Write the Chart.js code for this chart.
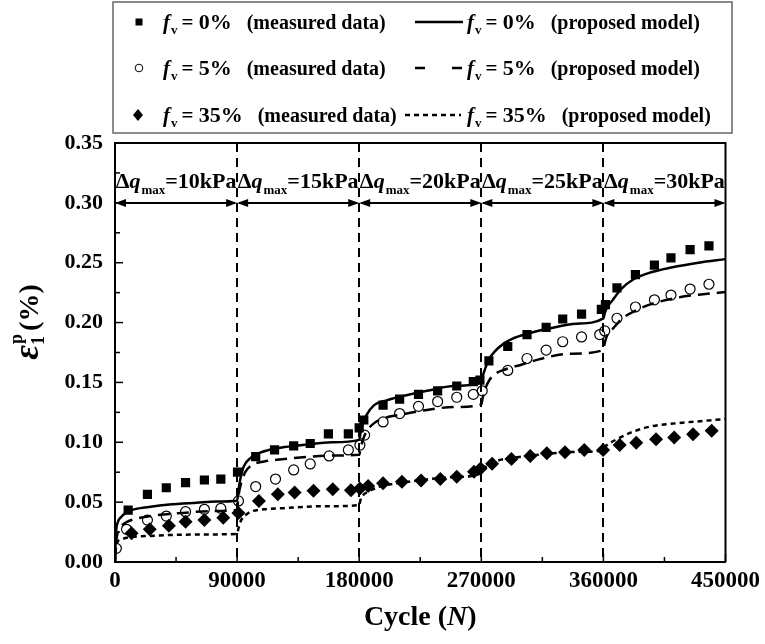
<!DOCTYPE html>
<html>
<head>
<meta charset="utf-8">
<script src="https://cdn.jsdelivr.net/npm/chart.js@4.4.1/dist/chart.umd.min.js"></script>
<style>
  html, body { margin: 0; padding: 0; background: #fff; }
</style>
</head>
<body>
<canvas id="strainChart" width="765" height="644"></canvas>
<script>
// loading stages (cycle boundaries) and their deviator stress amplitude
const stageBounds = [0, 90000, 180000, 270000, 360000, 450000];
const stageLoads = ['10kPa', '15kPa', '20kPa', '25kPa', '30kPa'];
const legendFractions = ['0%', '5%', '35%'];

// measured data, f_v = 0%
const cyclesM0 = [9700, 23900, 37800, 52000, 65900, 78000, 90300, 103700, 117600, 131700, 143900, 157300, 172000, 180000, 183400, 197600, 209800, 223700, 237800, 251900, 264100, 269000, 275600, 289500, 303700, 317800, 330000, 343900, 358500, 361500, 370000, 383600, 397600, 409800, 423900, 437800];
const strainM0 = [0.0434, 0.0565, 0.062, 0.0663, 0.0685, 0.0693, 0.075, 0.088, 0.0936, 0.097, 0.099, 0.107, 0.107, 0.112, 0.1186, 0.131, 0.136, 0.140, 0.143, 0.147, 0.1506, 0.152, 0.168, 0.180, 0.190, 0.196, 0.203, 0.207, 0.211, 0.215, 0.229, 0.240, 0.248, 0.254, 0.261, 0.264];

// measured data, f_v = 5%
const cyclesM5 = [1000, 8500, 23900, 37800, 52000, 65900, 78000, 91000, 103700, 118300, 131700, 143900, 157800, 172000, 180500, 184000, 197600, 209800, 223700, 237800, 251900, 264100, 270700, 289500, 303700, 317800, 330000, 343900, 357300, 361000, 370000, 383600, 397600, 409800, 423900, 437800];
const strainM5 = [0.0114, 0.0273, 0.035, 0.0384, 0.042, 0.044, 0.0448, 0.051, 0.063, 0.0693, 0.0769, 0.0819, 0.0886, 0.0936, 0.0977, 0.106, 0.117, 0.124, 0.130, 0.134, 0.1376, 0.140, 0.143, 0.160, 0.170, 0.177, 0.184, 0.188, 0.190, 0.193, 0.2036, 0.213, 0.219, 0.223, 0.228, 0.232];

// measured data, f_v = 35%
const cyclesM35 = [12200, 25600, 39700, 52000, 65900, 79800, 91000, 106100, 120000, 132400, 146300, 160500, 173900, 180500, 186600, 197600, 211500, 225600, 239800, 251900, 264600, 269500, 278000, 292200, 306100, 318300, 331700, 345900, 359800, 372000, 384200, 398800, 412200, 426100, 439800];
const strainM35 = [0.024, 0.0273, 0.0303, 0.0337, 0.035, 0.037, 0.041, 0.051, 0.0565, 0.058, 0.0596, 0.0607, 0.060, 0.0615, 0.0635, 0.0657, 0.067, 0.068, 0.0693, 0.0713, 0.0754, 0.078, 0.082, 0.086, 0.0886, 0.0908, 0.0916, 0.0936, 0.0936, 0.0977, 0.0997, 0.1025, 0.104, 0.1067, 0.1097];

// proposed model, f_v = 0%
const cyclesP0 = [0, 800, 2000, 4000, 8000, 14000, 25000, 40000, 60000, 75000, 90000, 91000, 92500, 95000, 100000, 106000, 115000, 125000, 140000, 160000, 180000, 181000, 182500, 185000, 191000, 200000, 210000, 230000, 250000, 270000, 271000, 273000, 276000, 280000, 286000, 292000, 305000, 320000, 340000, 360000, 361000, 363000, 367000, 373000, 382000, 395000, 410000, 430000, 450000];
const strainP0 = [0, 0.025, 0.033, 0.037, 0.041, 0.044, 0.046, 0.048, 0.0495, 0.0505, 0.0512, 0.060, 0.070, 0.080, 0.087, 0.091, 0.094, 0.096, 0.098, 0.100, 0.102, 0.108, 0.115, 0.122, 0.131, 0.135, 0.138, 0.143, 0.147, 0.150, 0.155, 0.162, 0.170, 0.176, 0.182, 0.186, 0.191, 0.195, 0.199, 0.2035, 0.208, 0.213, 0.219, 0.228, 0.236, 0.242, 0.246, 0.250, 0.253];

// proposed model, f_v = 5%
const cyclesP5 = [0, 500, 1500, 4000, 8000, 15000, 30000, 50000, 70000, 90000, 91000, 93000, 96000, 101000, 110000, 125000, 145000, 165000, 180000, 181000, 183000, 186000, 191000, 198000, 210000, 230000, 250000, 270000, 271000, 273000, 276000, 280000, 288000, 300000, 315000, 335000, 360000, 361000, 363000, 367000, 374000, 382000, 394000, 418000, 435000, 450000];
const strainP5 = [0, 0.012, 0.022, 0.029, 0.033, 0.036, 0.039, 0.041, 0.0425, 0.0435, 0.055, 0.066, 0.075, 0.081, 0.084, 0.086, 0.088, 0.089, 0.0895, 0.095, 0.103, 0.110, 0.116, 0.120, 0.123, 0.127, 0.1295, 0.1315, 0.137, 0.145, 0.152, 0.157, 0.161, 0.165, 0.170, 0.174, 0.177, 0.183, 0.190, 0.195, 0.2035, 0.209, 0.215, 0.2215, 0.2238, 0.2255];

// proposed model, f_v = 35%
const cyclesP35 = [0, 500, 1500, 5000, 12000, 20000, 40000, 65000, 90000, 91000, 93000, 96000, 100000, 110000, 125000, 150000, 180000, 181000, 183000, 187000, 195000, 210000, 230000, 250000, 270000, 271000, 274000, 278000, 287000, 300000, 320000, 340000, 360000, 361000, 363000, 369000, 380000, 394000, 415000, 435000, 450000];
const strainP35 = [0, 0.010, 0.016, 0.019, 0.021, 0.0215, 0.0225, 0.023, 0.0235, 0.028, 0.035, 0.039, 0.042, 0.044, 0.045, 0.0465, 0.0475, 0.052, 0.056, 0.059, 0.063, 0.066, 0.069, 0.071, 0.074, 0.077, 0.080, 0.083, 0.086, 0.088, 0.0905, 0.092, 0.0935, 0.096, 0.098, 0.102, 0.108, 0.113, 0.116, 0.118, 0.1195];

const FONT = '"Liberation Serif", "Times New Roman", serif';

function toPoints(xs, ys) {
  return xs.map((x, i) => ({ x: x, y: ys[i] }));
}

// draws a run of text pieces with different fonts / offsets, returns total width
function drawRich(ctx, parts, x, y, measureOnly) {
  let cx = x;
  parts.forEach(p => {
    ctx.font = p.font;
    if (!measureOnly) ctx.fillText(p.t, cx, y + (p.dy || 0));
    cx += ctx.measureText(p.t).width + (p.gap || 0);
  });
  return cx - x;
}

const overlayPlugin = {
  id: 'overlay',
  beforeDatasetsDraw(chart) {
    const ctx = chart.ctx;
    const xs = chart.scales.x, area = chart.chartArea;
    // stage boundaries
    ctx.save();
    ctx.strokeStyle = '#000';
    ctx.lineWidth = 2;
    ctx.setLineDash([9, 6]);
    stageBounds.slice(1, -1).forEach(b => {
      const px = Math.round(xs.getPixelForValue(b));
      ctx.beginPath();
      ctx.moveTo(px, area.top);
      ctx.lineTo(px, area.bottom);
      ctx.stroke();
    });
    ctx.restore();
  },
  afterDraw(chart) {
    const ctx = chart.ctx;
    const xs = chart.scales.x, ys = chart.scales.y, area = chart.chartArea;
    ctx.save();
    ctx.fillStyle = '#000';
    ctx.strokeStyle = '#000';

    // frame top / right
    ctx.lineWidth = 2;
    ctx.beginPath();
    ctx.moveTo(area.left, area.top);
    ctx.lineTo(area.right, area.top);
    ctx.lineTo(area.right, area.bottom);
    ctx.stroke();

    // inward ticks
    ctx.lineWidth = 1.5;
    const yt = ys.ticks.map(t => t.value);
    yt.forEach((v, i) => {
      const py = ys.getPixelForValue(v);
      ctx.beginPath(); ctx.moveTo(area.left, py); ctx.lineTo(area.left + 8, py); ctx.stroke();
      if (i < yt.length - 1) {
        const pm = ys.getPixelForValue((v + yt[i + 1]) / 2);
        ctx.beginPath(); ctx.moveTo(area.left, pm); ctx.lineTo(area.left + 5, pm); ctx.stroke();
      }
    });
    const xt = xs.ticks.map(t => t.value);
    xt.forEach((v, i) => {
      const px = xs.getPixelForValue(v);
      ctx.beginPath(); ctx.moveTo(px, area.bottom); ctx.lineTo(px, area.bottom - 8); ctx.stroke();
      if (i < xt.length - 1) {
        const pm = xs.getPixelForValue((v + xt[i + 1]) / 2);
        ctx.beginPath(); ctx.moveTo(pm, area.bottom); ctx.lineTo(pm, area.bottom - 5); ctx.stroke();
      }
    });

    // stage arrows and labels at 0.30
    const ay = Math.round(ys.getPixelForValue(0.30));
    ctx.lineWidth = 2;
    ctx.textBaseline = 'alphabetic';
    for (let i = 0; i < stageLoads.length; i++) {
      const xl = xs.getPixelForValue(stageBounds[i]);
      const xr = xs.getPixelForValue(stageBounds[i + 1]);
      ctx.beginPath(); ctx.moveTo(xl + 2, ay); ctx.lineTo(xr - 2, ay); ctx.stroke();
      ctx.beginPath(); ctx.moveTo(xl, ay); ctx.lineTo(xl + 11, ay - 4); ctx.lineTo(xl + 11, ay + 4); ctx.closePath(); ctx.fill();
      ctx.beginPath(); ctx.moveTo(xr, ay); ctx.lineTo(xr - 11, ay - 4); ctx.lineTo(xr - 11, ay + 4); ctx.closePath(); ctx.fill();
      const parts = [
        { t: 'Δ', font: 'bold 22px ' + FONT },
        { t: 'q', font: 'italic bold 22px ' + FONT, gap: 1 },
        { t: 'max', font: 'bold 13px ' + FONT, dy: 6 },
        { t: '=' + stageLoads[i], font: 'bold 22px ' + FONT }
      ];
      const w = drawRich(ctx, parts, 0, 0, true);
      drawRich(ctx, parts, (xl + xr) / 2 - w / 2, ay - 15);
    }

    // y axis title
    ctx.save();
    ctx.translate(38, 322);
    ctx.rotate(-Math.PI / 2);
    ctx.font = 'italic bold 36px ' + FONT;
    const wE = ctx.measureText('ε').width;
    ctx.font = 'bold 18px ' + FONT;
    const wS = Math.max(ctx.measureText('1').width, ctx.measureText('p').width);
    ctx.font = 'bold 28px ' + FONT;
    const wP = ctx.measureText('(%)').width;
    const total = wE + wS + 4 + wP;
    let cx = -total / 2;
    ctx.font = 'italic bold 36px ' + FONT;
    ctx.fillText('ε', cx, 0);
    cx += wE;
    ctx.font = 'bold 18px ' + FONT;
    ctx.fillText('1', cx, 6);
    ctx.fillText('p', cx + 1, -16);
    cx += wS + 4;
    ctx.font = 'bold 28px ' + FONT;
    ctx.fillText('(%)', cx, 0);
    ctx.restore();

    // x axis title
    const xParts = [
      { t: 'Cycle (', font: 'bold 28px ' + FONT },
      { t: 'N', font: 'italic bold 28px ' + FONT },
      { t: ')', font: 'bold 28px ' + FONT }
    ];
    const xw = drawRich(ctx, xParts, 0, 0, true);
    drawRich(ctx, xParts, (area.left + area.right) / 2 - xw / 2, 625);

    // legend box
    ctx.lineWidth = 1.5;
    ctx.strokeStyle = '#666';
    ctx.strokeRect(113, 2, 619, 131);
    ctx.strokeStyle = '#000';
    const rowY = [22, 68, 115];
    legendFractions.forEach((frac, i) => {
      const y = rowY[i];
      // marker
      ctx.setLineDash([]);
      if (i === 0) {
        ctx.fillRect(135.5, y - 3.5, 7, 7);
      } else if (i === 1) {
        ctx.lineWidth = 1;
        ctx.beginPath(); ctx.arc(139, y, 3.8, 0, Math.PI * 2); ctx.stroke();
      } else {
        ctx.beginPath();
        ctx.moveTo(138, y - 6); ctx.lineTo(143, y); ctx.lineTo(138, y + 6); ctx.lineTo(133, y);
        ctx.closePath(); ctx.fill();
      }
      const base = y + 7;
      const mParts = [
        { t: 'f', font: 'italic bold 21px ' + FONT, gap: 1 },
        { t: 'v', font: 'bold 13px ' + FONT, dy: 5, gap: 4 },
        { t: '= ', font: 'bold 21px ' + FONT },
        { t: frac, font: 'bold 22px ' + FONT, gap: 15 },
        { t: '(measured data)', font: 'bold 20px ' + FONT }
      ];
      drawRich(ctx, mParts, 163, base);
      // line sample
      ctx.lineWidth = 2.5;
      ctx.beginPath();
      if (i === 0) {
        ctx.moveTo(415, y); ctx.lineTo(463, y);
      } else if (i === 1) {
        ctx.setLineDash([10, 27]);
        ctx.moveTo(415, y); ctx.lineTo(463, y);
      } else {
        ctx.setLineDash([5, 4]);
        ctx.moveTo(405, y); ctx.lineTo(461, y);
      }
      ctx.stroke();
      ctx.setLineDash([]);
      const pParts = [
        { t: 'f', font: 'italic bold 21px ' + FONT, gap: 1 },
        { t: 'v', font: 'bold 13px ' + FONT, dy: 5, gap: 4 },
        { t: '= ', font: 'bold 21px ' + FONT },
        { t: frac, font: 'bold 22px ' + FONT, gap: 15 },
        { t: '(proposed model)', font: 'bold 20px ' + FONT }
      ];
      drawRich(ctx, pParts, 467, base);
    });
    ctx.restore();
  }
};

const ctx = document.getElementById('strainChart').getContext('2d');
const strainChart = new Chart(ctx, {
  type: 'scatter',
  data: {
    datasets: [
      { label: 'fv = 0% (measured data)', data: toPoints(cyclesM0, strainM0), pointStyle: 'rect', pointRadius: 6.5, backgroundColor: '#000', borderWidth: 0 },
      { label: 'fv = 5% (measured data)', data: toPoints(cyclesM5, strainM5), pointStyle: 'circle', pointRadius: 5, backgroundColor: 'rgba(0,0,0,0)', borderColor: '#000', borderWidth: 1.2 },
      { label: 'fv = 35% (measured data)', data: toPoints(cyclesM35, strainM35), pointStyle: 'rectRot', pointRadius: 7, backgroundColor: '#000', borderWidth: 0 },
      { label: 'fv = 0% (proposed model)', data: toPoints(cyclesP0, strainP0), showLine: true, pointRadius: 0, borderColor: '#000', borderWidth: 2.5, cubicInterpolationMode: 'monotone' },
      { label: 'fv = 5% (proposed model)', data: toPoints(cyclesP5, strainP5), showLine: true, pointRadius: 0, borderColor: '#000', borderWidth: 2.5, borderDash: [12, 7], cubicInterpolationMode: 'monotone' },
      { label: 'fv = 35% (proposed model)', data: toPoints(cyclesP35, strainP35), showLine: true, pointRadius: 0, borderColor: '#000', borderWidth: 2.5, borderDash: [5, 4], cubicInterpolationMode: 'monotone' }
    ]
  },
  options: {
    responsive: false,
    animation: false,
    layout: { padding: { left: 0, top: 143, right: 35, bottom: 0 } },
    plugins: {
      legend: { display: false },
      tooltip: { enabled: false }
    },
    scales: {
      x: {
        type: 'linear',
        min: 0,
        max: 450000,
        grid: { display: false, drawTicks: false },
        border: { display: true, color: '#000', width: 2 },
        ticks: {
          stepSize: 90000,
          color: '#000',
          padding: 5,
          maxRotation: 0,
          font: { family: FONT, size: 23, weight: 'bold' },
          callback: v => String(v)
        },
        afterFit: s => { s.height = 82; }
      },
      y: {
        min: 0,
        max: 0.35,
        grid: { display: false, drawTicks: false },
        border: { display: true, color: '#000', width: 2 },
        ticks: {
          stepSize: 0.05,
          color: '#000',
          padding: 12,
          font: { family: FONT, size: 22, weight: 'bold' },
          callback: v => v.toFixed(2)
        },
        afterFit: s => { s.width = 115; }
      }
    }
  },
  plugins: [overlayPlugin]
});
</script>
</body>
</html>
